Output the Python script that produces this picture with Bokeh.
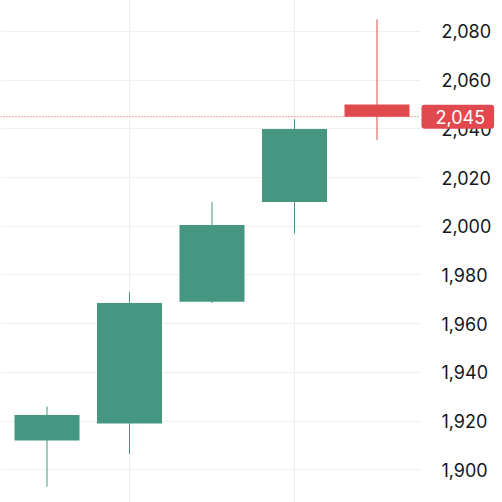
from bokeh.plotting import figure
from bokeh.models import (ColumnDataSource, FixedTicker, NumeralTickFormatter,
                          Grid, Label)
from bokeh.embed import file_html
from bokeh.resources import INLINE

# data
idx = [0, 1, 2, 3, 4]
opens = [1912, 1919, 1969, 2010, 2050]
closes = [1922.5, 1968.5, 2000.5, 2040, 2045]
highs = [1926, 1973, 2010, 2044, 2085]
lows = [1893, 1906.5, 1968.5, 1997, 2035.5]
y_ticks = [1900, 1920, 1940, 1960, 1980, 2000, 2020, 2040, 2060, 2080]
x_grid_ticks = [1, 3]
last_price = 2045
last_label = "2,045"

GREEN = "#459782"
RED = "#E04A4F"
GRID = "#f0f0f0"

X_LO, X_AXIS, X_HI = -0.5636, 4.527, 5.5212
Y_LO, Y_HI = 1886.57, 2092.73

colors = [GREEN if c >= o else RED for o, c in zip(opens, closes)]
src = ColumnDataSource(dict(x=idx, h=highs, l=lows,
                            top=[max(a, b) for a, b in zip(opens, closes)],
                            bot=[min(a, b) for a, b in zip(opens, closes)],
                            col=colors))

p = figure(width=502, height=502, output_backend="svg", toolbar_location=None,
           x_range=(X_LO, X_HI), y_range=(Y_LO, Y_HI),
           x_axis_location=None, y_axis_location="right",
           min_border_left=0, min_border_top=0, min_border_bottom=0,
           min_border_right=0)
p.outline_line_color = None
p.background_fill_color = "white"
p.border_fill_color = "white"

ax = p.yaxis[0]
ax.fixed_location = X_AXIS
ax.ticker = FixedTicker(ticks=y_ticks)
ax.formatter = NumeralTickFormatter(format="0,0")
ax.axis_line_color = None
ax.major_tick_line_color = None
ax.minor_tick_line_color = None
ax.major_label_standoff = 15
ax.major_label_text_font = "Inter"
ax.major_label_text_font_size = "18px"
ax.major_label_text_color = "#131722"

p.xgrid.visible = False
p.ygrid.visible = False
hg = Grid(dimension=1, ticker=FixedTicker(ticks=y_ticks), grid_line_color=GRID)
masked = False
try:
    hg.cross_bounds = (X_LO, X_AXIS)
except Exception:
    masked = True
p.add_layout(hg)
vg = Grid(dimension=0, ticker=FixedTicker(ticks=x_grid_ticks), grid_line_color=GRID)
p.add_layout(vg)

if masked:
    p.quad(left=[X_AXIS], right=[X_HI], bottom=[Y_LO], top=[Y_HI],
           fill_color="white", line_color=None)

p.segment(x0="x", x1="x", y0="l", y1="h", source=src, line_color="col", line_width=1)
p.vbar(x="x", width=0.788, top="top", bottom="bot", source=src,
       fill_color="col", line_color=None)

# last price line (stops at the price scale)
p.segment(x0=[X_LO], x1=[X_AXIS], y0=[last_price], y1=[last_price],
          line_color=RED, line_width=1, line_dash="1 2")

lbl = Label(x=X_AXIS, y=last_price, x_offset=1, text=last_label, text_font="Inter",
            text_font_size="18px", text_color="white", text_baseline="middle",
            text_align="left", background_fill_color=RED,
            padding=dict(left=14, right=9, top=5, bottom=5), border_radius=3)
p.add_layout(lbl)

open("out.html", "w").write(file_html(p, INLINE))
